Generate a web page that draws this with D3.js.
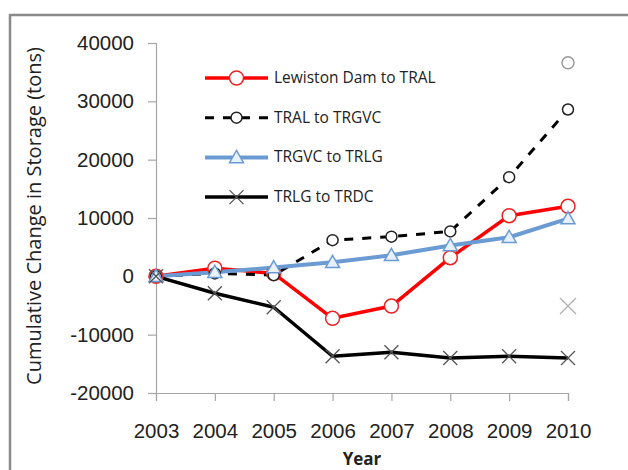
<!DOCTYPE html>
<html>
<head>
<meta charset="utf-8">
<style>
  body { margin: 0; background: #fff; }
  svg { display: block; font-family: "Open Sans", sans-serif; }
</style>
</head>
<body>
<svg id="chart" width="628" height="470"></svg>
<script src="https://cdnjs.cloudflare.com/ajax/libs/d3/7.8.5/d3.min.js"></script>
<script>
const years = [2003, 2004, 2005, 2006, 2007, 2008, 2009, 2010];
const yTicks = [-20000, -10000, 0, 10000, 20000, 30000, 40000];

const lewistonToTral = [0, 1400, 500, -7200, -5100, 3200, 10400, 12000];
const tralToTrgvc = [0, 500, 200, 6200, 6800, 7700, 17000, 28600];
const trgvcToTrlg = [0, 700, 1500, 2400, 3600, 5300, 6700, 9900];
const trlgToTrdc = [0, -2900, -5300, -13700, -13000, -14000, -13700, -14000];

// two stray gray markers at 2010
const extraCircle = [{ year: 2010, value: 36600 }];
const extraCross = [{ year: 2010, value: -5100 }];

const series = [
  { name: 'Lewiston Dam to TRAL', values: lewistonToTral, color: '#ff0000', width: 3.5, dash: null, marker: 'circle', r: 7, mstroke: '#ee2222' },
  { name: 'TRAL to TRGVC', values: tralToTrgvc, color: '#000', width: 3, dash: '9,9', marker: 'circle', r: 5.5, mstroke: '#222' },
  { name: 'TRGVC to TRLG', values: trgvcToTrlg, color: '#6a9bd3', width: 4, dash: null, marker: 'triangle', r: 7, mstroke: '#6a9bd3' },
  { name: 'TRLG to TRDC', values: trlgToTrdc, color: '#000', width: 3.5, dash: null, marker: 'cross', r: 7, mstroke: '#555' }
];

const svg = d3.select('#chart');

// outer frame (top and left edges only visible)
svg.append('path')
  .attr('d', 'M10,470 V15 H628')
  .attr('fill', 'none')
  .attr('stroke', '#8a8a8a')
  .attr('stroke-width', 2.5);

const x = d3.scaleLinear().domain([2003, 2010]).range([156, 568]);
const y = d3.scaleLinear().domain([-20000, 40000]).range([393, 43]);

const yAxis = svg.append('g')
  .attr('transform', 'translate(156,0)')
  .call(d3.axisLeft(y).tickValues(yTicks).tickSize(8).tickPadding(14).tickFormat(d => String(d)));
const xAxis = svg.append('g')
  .attr('transform', 'translate(0,393)')
  .call(d3.axisBottom(x).tickValues(years).tickSize(8).tickPadding(22).tickFormat(d => String(d)));

[yAxis, xAxis].forEach(a => {
  a.select('.domain').attr('stroke', '#a6a6a6').attr('stroke-width', 1.2);
  a.selectAll('.tick line').attr('stroke', '#a6a6a6').attr('stroke-width', 1.2);
  a.selectAll('.tick text').attr('fill', '#222').style('font-size', '20.5px');
});

svg.append('text')
  .attr('transform', 'translate(41,216) rotate(-90)')
  .attr('text-anchor', 'middle')
  .attr('fill', '#222')
  .style('font-size', '20px')
  .text('Cumulative Change in Storage (tons)');

svg.append('text')
  .attr('x', 362).attr('y', 465)
  .attr('text-anchor', 'middle')
  .attr('fill', '#222')
  .style('font-size', '17px')
  .style('font-weight', 'bold')
  .text('Year');

const line = d3.line().x((d, i) => x(years[i])).y(d => y(d));

function drawMarker(g, s, cx, cy, stroke) {
  if (s.marker === 'circle') {
    g.append('circle').attr('cx', cx).attr('cy', cy).attr('r', s.r)
      .attr('fill', '#fff').attr('stroke', stroke).attr('stroke-width', 1.5);
  } else if (s.marker === 'triangle') {
    const r = s.r;
    g.append('path')
      .attr('d', `M${cx},${cy - r} L${cx + r},${cy + r * 0.75} L${cx - r},${cy + r * 0.75} Z`)
      .attr('fill', '#e8f0fa').attr('stroke', stroke).attr('stroke-width', 1.5);
  } else {
    const r = s.r;
    g.append('path')
      .attr('d', `M${cx - r},${cy - r} L${cx + r},${cy + r} M${cx - r},${cy + r} L${cx + r},${cy - r}`)
      .attr('fill', 'none').attr('stroke', stroke).attr('stroke-width', 1.3);
  }
}

const plot = svg.append('g');
series.forEach(s => {
  plot.append('path')
    .datum(s.values)
    .attr('d', line)
    .attr('fill', 'none')
    .attr('stroke', s.color)
    .attr('stroke-width', s.width)
    .attr('stroke-dasharray', s.dash)
    .attr('stroke-linejoin', 'round');
});
series.forEach(s => {
  const g = plot.append('g');
  s.values.forEach((v, i) => drawMarker(g, s, x(years[i]), y(v), s.mstroke));
});

extraCircle.forEach(d => drawMarker(plot, { marker: 'circle', r: 6 }, x(d.year), y(d.value), '#999'));
extraCross.forEach(d => drawMarker(plot, { marker: 'cross', r: 8 }, x(d.year), y(d.value), '#b0b0b0'));

// legend
const legend = svg.append('g');
series.forEach((s, i) => {
  const ly = 78 + i * 39.7;
  const row = legend.append('g');
  row.append('line')
    .attr('x1', 205).attr('x2', 268).attr('y1', ly).attr('y2', ly)
    .attr('stroke', s.color).attr('stroke-width', s.width)
    .attr('stroke-dasharray', s.dash);
  drawMarker(row, s, 236.5, ly, s.mstroke);
  row.append('text')
    .attr('x', 274).attr('y', ly + 5)
    .attr('fill', '#222')
    .style('font-size', '15.5px')
    .text(s.name);
});
</script>
</body>
</html>
